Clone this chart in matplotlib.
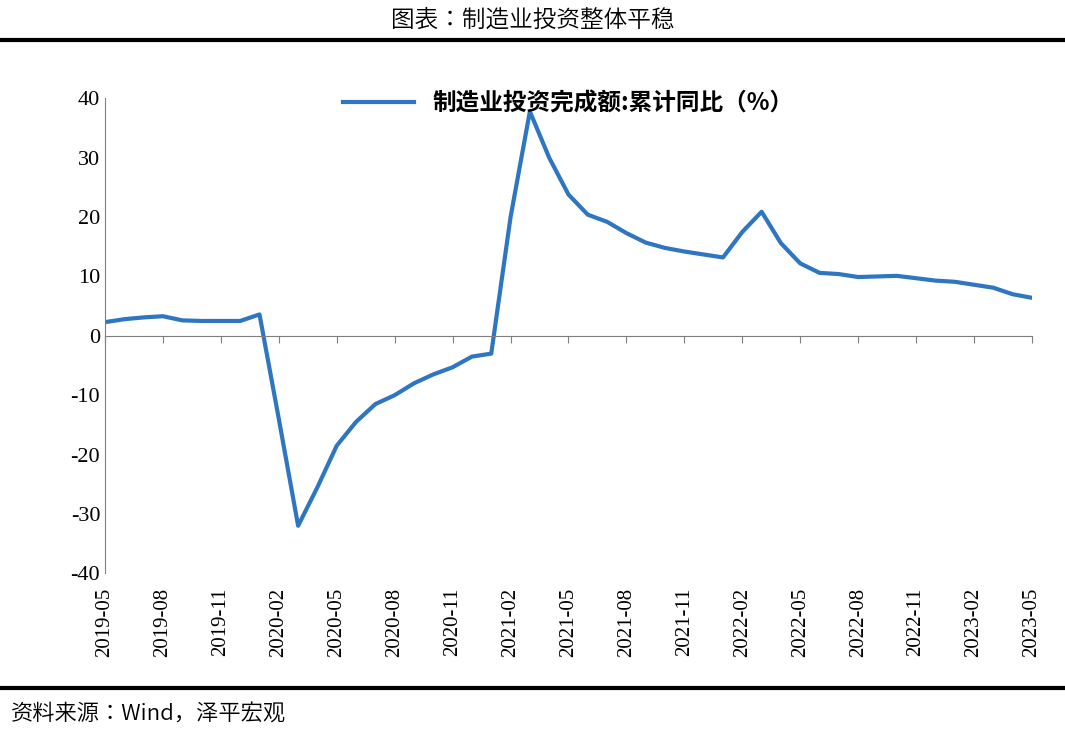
import numpy as np
import matplotlib.pyplot as plt
import matplotlib.transforms as mtransforms
from matplotlib.lines import Line2D
from matplotlib import font_manager as fm

plt.rcParams["axes.unicode_minus"] = False

months = [f"{y}-{m:02d}" for y in range(2019, 2024) for m in range(1, 13)]
months = months[months.index("2019-05"):months.index("2023-05") + 1]
values = [2.3, 2.8, 3.1, 3.3, 2.6, 2.5, 2.5, 2.5, 3.6, -14.0,
          -32.0, -25.5, -18.5, -14.5, -11.5, -10.0, -8.0, -6.5, -5.3, -3.5,
          -3.0, 20.0, 37.8, 30.0, 23.8, 20.4, 19.2, 17.3, 15.7, 14.8,
          14.2, 13.7, 13.2, 17.5, 20.9, 15.6, 12.2, 10.6, 10.4, 9.9,
          10.0, 10.1, 9.7, 9.3, 9.1, 8.6, 8.1, 7.0, 6.4]
tick_labels = months[::3]

# find a CJK font file directly
cjk_files = [f for f in fm.findSystemFonts() if "CJK" in f or "cjk" in f.lower()]
cjk_files.sort(key=lambda f: ("SC" not in f, "Bold" in f, f))
cjk_reg = [f for f in cjk_files if "Bold" not in f and "Black" not in f]
cjk_bold = [f for f in cjk_files if "Bold" in f]
reg_file = cjk_reg[0] if cjk_reg else (cjk_files[0] if cjk_files else None)
bold_file = cjk_bold[0] if cjk_bold else reg_file

def cjk(size, bold=False):
    f = bold_file if bold else reg_file
    if f:
        return fm.FontProperties(fname=f, size=size, weight="bold" if bold else "normal")
    return fm.FontProperties(family="Noto Sans CJK SC", size=size)

serif = "Liberation Serif"

fig = plt.figure(figsize=(10.65, 7.34), dpi=100)
ax = fig.add_axes([0.0986, 0.219, 0.8704, 0.647])

x = np.arange(len(values))
ax.plot(x, values, color="#2E75C2", lw=3, solid_joinstyle="round")
ax.set_xlim(0, len(values) - 1)
ax.set_ylim(-40, 40)
ax.set_yticks(range(-40, 41, 10))
ax.tick_params(axis="y", direction="in", length=0, labelsize=16)
for lab in ax.get_yticklabels():
    lab.set_fontfamily(serif)
for s in ["top", "right"]:
    ax.spines[s].set_visible(False)
ax.spines["bottom"].set_position(("data", 0))
ax.spines["left"].set_color("#7f7f7f")
ax.spines["bottom"].set_color("#7f7f7f")
ax.set_xticks(x[::3])
ax.set_xticklabels([])
ax.tick_params(axis="x", direction="out", length=5, color="#7f7f7f")
trans = mtransforms.blended_transform_factory(ax.transData, ax.transAxes)
for xi, lab in zip(x[::3], tick_labels):
    ax.text(xi, -0.03, lab, transform=trans, rotation=90, ha="center", va="top",
            fontsize=15, fontfamily=serif)

handle = Line2D([], [], color="#2E75C2", lw=3)
ax.legend([handle], ["制造业投资完成额:累计同比（%）"], loc="upper center",
          bbox_to_anchor=(0.5, 1.06), frameon=False,
          prop=cjk(17, bold=True), handlelength=3)

fig.text(0.5, 0.972, "图表：制造业投资整体平稳", ha="center", va="center",
         fontproperties=cjk(17))
fig.add_artist(Line2D([0.0, 1.0], [0.945, 0.945], color="black", lw=3, transform=fig.transFigure))
fig.add_artist(Line2D([0.0, 1.0], [0.062, 0.062], color="black", lw=3, transform=fig.transFigure))
fig.text(0.01, 0.027, "资料来源：Wind，泽平宏观", ha="left", va="center",
         fontproperties=cjk(16))

fig.savefig("out.png", dpi=100)
